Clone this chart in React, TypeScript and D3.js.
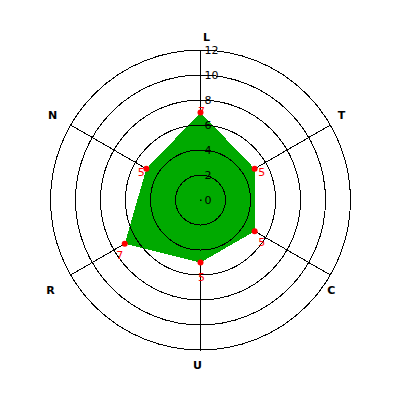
import React from "react";
import * as d3 from "d3";

const axes = ["L", "T", "C", "U", "R", "N"];
const values = [7, 5, 5, 5, 7, 5];
const ticks = [0, 2, 4, 6, 8, 10, 12];

export default function App() {
  const W = 400, H = 400;
  const cx = 200.5, cy = 200;
  const r = d3.scaleLinear().domain([0, 12]).range([0, 150]);
  const angle = d3.scaleLinear().domain([0, axes.length]).range([0, 2 * Math.PI]);
  const pt = (i: number, v: number): [number, number] => {
    const a = angle(i);
    return [cx + r(v) * Math.sin(a), cy - r(v) * Math.cos(a)];
  };
  const poly = d3.line<number>().x((v, i) => pt(i, v)[0]).y((v, i) => pt(i, v)[1]).curve(d3.curveLinearClosed)(values) || "";
  // title nudges for anchor placement
  const titleNudge: [number, number][] = [[6, 2], [-2, -2], [-12, 8], [-3, 0], [-7, 8], [-5, -2]];
  return (
    <svg width={W} height={H} style={{ position: "absolute", left: 0, top: 0, background: "#fff" }}>
      {axes.map((a, i) => {
        const [x, y] = pt(i, 12);
        return <line key={"s" + i} x1={cx} y1={cy} x2={x} y2={y} stroke="#000" strokeWidth={1} shapeRendering="crispEdges" />;
      })}
      <path d={poly} fill="#00aa00" stroke="none" shapeRendering="crispEdges" />
      {ticks.slice(1).map((t) => (
        <circle key={"c" + t} cx={cx} cy={cy} r={r(t)} fill="none" stroke="#000" strokeWidth={1} shapeRendering="crispEdges" />
      ))}
      <rect x={cx - 0.5} y={cy - 0.5} width={1.5} height={1.5} fill="#000" />
      {ticks.map((t) => (
        <text key={"t" + t} x={cx + 4} y={cy - r(t)} dy="0.35em" fontFamily="DejaVu Sans, sans-serif" fontSize={11} fill="#000">
          {t}
        </text>
      ))}
      {values.map((v, i) => {
        const [x, y] = pt(i, v);
        return <circle key={"m" + i} cx={x} cy={y} r={3} fill="#ff0000" />;
      })}
      {values.map((v, i) => {
        const [x, y] = pt(i, v);
        const a = angle(i);
        const dx = 1 + 7 * Math.sin(a);
        const dy = 7 - 8 * Math.cos(a);
        return (
          <text key={"v" + i} x={x + dx} y={y + dy} dy="0.35em" textAnchor="middle" fontFamily="DejaVu Sans, sans-serif" fontSize={11} fill="#ff0000">
            {v}
          </text>
        );
      })}
      {axes.map((a, i) => {
        const ang = angle(i);
        const x = cx + 165 * Math.sin(ang) + titleNudge[i][0];
        const y = cy - 165 * Math.cos(ang) + titleNudge[i][1];
        return (
          <text key={"a" + i} x={x} y={y} dy="0.35em" textAnchor="middle" fontFamily="DejaVu Sans, sans-serif" fontWeight="bold" fontSize={11} fill="#000">
            {a}
          </text>
        );
      })}
    </svg>
  );
}
